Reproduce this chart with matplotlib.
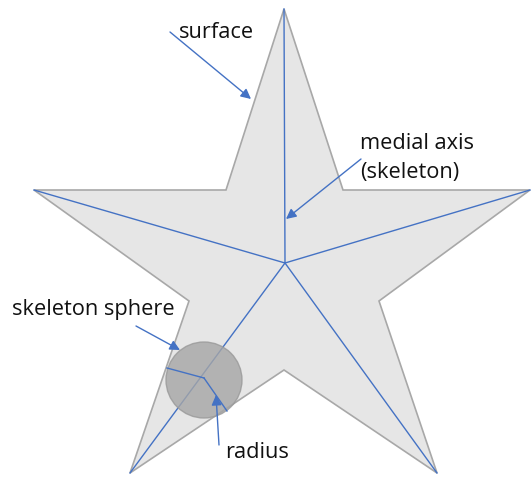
import numpy as np
import matplotlib.pyplot as plt
from matplotlib.patches import Polygon, Circle

# star outline (pixel coords, y down)
star_x = [284, 343, 530, 379, 437, 284, 130, 189, 34, 226]
star_y = [9, 190, 190, 301, 473, 370, 473, 301, 190, 190]

# medial axis: junction point + the five tips
hub = (285, 263)
tips_x = [284, 530, 437, 130, 34]
tips_y = [9, 190, 473, 473, 190]

# skeleton sphere
sphere_c = (204, 380)
sphere_r = 38
radius_ends_x = [167, 227]
radius_ends_y = [368, 411]

labels = ['surface', 'medial axis\n(skeleton)', 'skeleton sphere', 'radius']
label_x = [179, 360, 12, 225]
label_y = [32, 158, 310, 453]
arrow_from = [(170, 32), (361, 159), (136, 326), (219, 445)]
arrow_to = [(251, 99), (286, 219), (180, 350), (216, 395)]

blue = '#4472C4'

fig = plt.figure(figsize=(5.31, 4.83), dpi=100)
ax = fig.add_axes([0, 0, 1, 1])
ax.set_xlim(0, 531)
ax.set_ylim(483, 0)
ax.axis('off')

ax.add_patch(Polygon(np.column_stack([star_x, star_y]), closed=True,
                     facecolor='#e6e6e6', edgecolor='#a8a8a8', lw=1.2, zorder=1))

for tx, ty in zip(tips_x, tips_y):
    ax.plot([hub[0], tx], [hub[1], ty], color=blue, lw=1, zorder=2)

ax.add_patch(Circle(sphere_c, sphere_r, facecolor='#a6a6a6', edgecolor='#999999',
                    alpha=0.8, lw=1, zorder=3))
for ex, ey in zip(radius_ends_x, radius_ends_y):
    ax.plot([sphere_c[0], ex], [sphere_c[1] - 2, ey], color=blue, lw=1, zorder=4)

for a, b in zip(arrow_from, arrow_to):
    ax.annotate('', xy=b, xytext=a,
                arrowprops=dict(arrowstyle='-|>', color=blue, lw=1,
                                mutation_scale=15, shrinkA=0, shrinkB=0), zorder=5)

for t, x, y in zip(labels, label_x, label_y):
    ax.text(x, y, t, fontsize=15.7, family='Open Sans', color='#111111',
            ha='left', va='center', linespacing=1.45, zorder=6)

fig.savefig('out.png', dpi=100)
